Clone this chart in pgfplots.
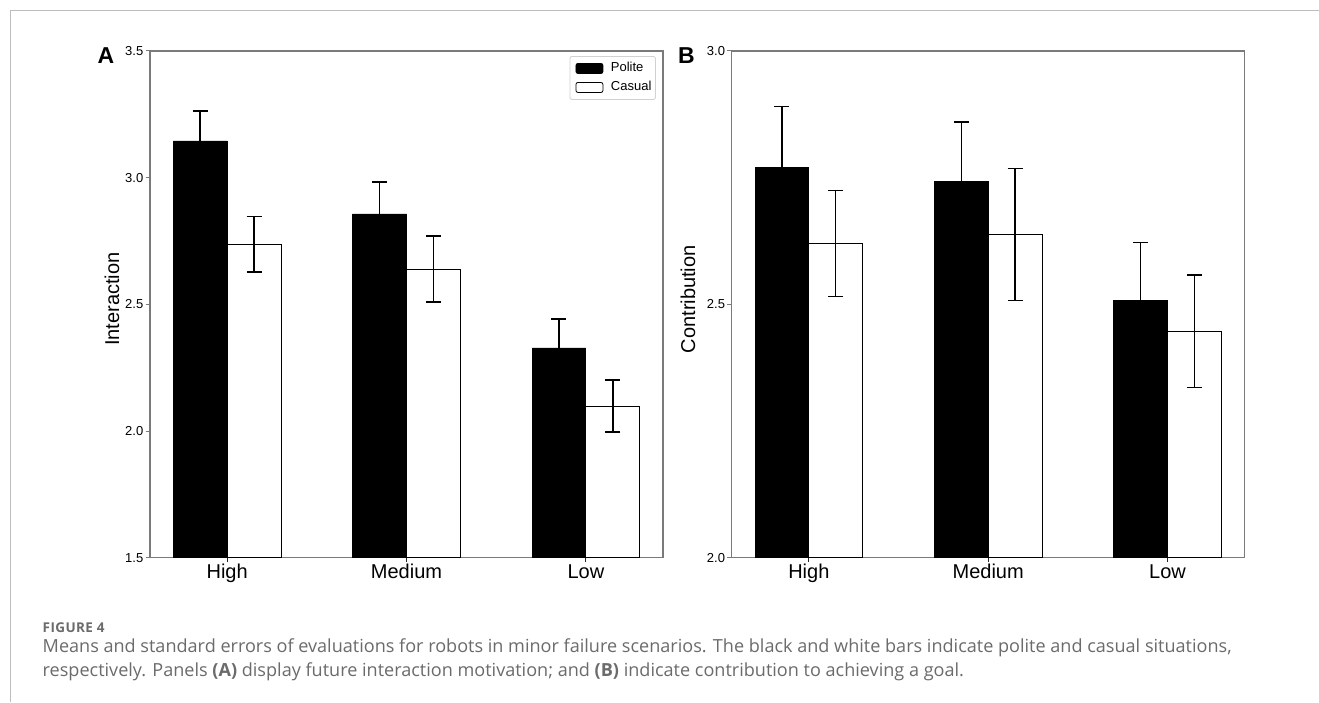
\documentclass[border=0pt]{standalone}
\usepackage{fontspec}
\usepackage{pgfplots}
\usepackage{pgfplotstable}
\pgfplotsset{compat=1.18}
\setmainfont{Liberation Sans}
\newfontfamily\capfont{Open Sans}
\definecolor{capgray}{HTML}{6B6B6B}
\definecolor{spine}{HTML}{7A7A7A}
\definecolor{framegray}{HTML}{BDBDBD}
\newlength{\capw}
\newcommand{\lineone}{Means and standard errors of evaluations for robots in minor failure scenarios. The black and white bars indicate polite and casual situations,}
\newcommand{\capsetup}{\settowidth{\capw}{\capfont\fontsize{16}{20}\selectfont\lineone}%
  \pgfmathsetmacro{\capsize}{16*(1189/\capw)}%
  \capfont\fontsize{\capsize}{20}\selectfont}

\pgfplotstableread{
x y e
-0.15 3.145 0.119
0.85 2.857 0.125
1.85 2.328 0.115
}\politeA
\pgfplotstableread{
x y e
0.15 2.737 0.110
1.15 2.639 0.130
2.15 2.099 0.103
}\casualA
\pgfplotstableread{
x y e
-0.15 2.770 0.120
0.85 2.743 0.117
1.85 2.507 0.115
}\politeB
\pgfplotstableread{
x y e
0.15 2.620 0.105
1.15 2.638 0.130
2.15 2.447 0.111
}\casualB

\pgfplotsset{
  panel/.style={
    scale only axis, width=513pt, height=506.7pt,
    xmin=-0.43, xmax=2.43,
    xtick={0,1,2}, xticklabels={High,Medium,Low},
    xtick pos=bottom, ytick pos=left,
    axis line style={draw=spine, line width=1.1pt},
    tick align=outside, major tick length=4.5pt,
    xtick style={draw=black!85, line width=1pt},
    ytick style={draw=spine, line width=1pt},
    xticklabel style={font=\fontsize{20}{24}\selectfont, inner sep=1pt, yshift=-1pt},
    yticklabel style={font=\fontsize{13}{15}\selectfont, inner sep=2pt,
      /pgf/number format/.cd, fixed, fixed zerofill, precision=1},
    /pgf/number format/assume math mode=true,
    ylabel style={font=\fontsize{20}{24}\selectfont, anchor=center},
  },
  pbar/.style={ybar, bar width=0.3, bar shift=0pt, fill=black, draw=black, line width=0.8pt, forget plot,
    error bars/.cd, y dir=both, y explicit,
    error bar style={line width=1.5pt, black},
    error mark options={rotate=90, mark size=7.5pt, line width=1.5pt, black}},
  cbar/.style={ybar, bar width=0.3, bar shift=0pt, fill=white, draw=black, line width=0.8pt, forget plot,
    error bars/.cd, y dir=both, y explicit,
    error bar style={line width=1.5pt, black},
    error mark options={rotate=90, mark size=7.5pt, line width=1.5pt, black}},
}

\begin{document}
\begin{tikzpicture}
\path[use as bounding box] (0pt,0pt) rectangle (1319pt,702pt);
\fill[white] (0pt,0pt) rectangle (1319pt,702pt);
\draw[framegray, line width=1pt] (10pt,0pt) -- (10pt,691pt) -- (1319pt,691pt);

% Panel A
\begin{axis}[panel, at={(150pt,144.3pt)}, anchor=south west,
  ymin=1.5, ymax=3.5, ytick={1.5,2,2.5,3,3.5},
  ylabel={Interaction},
  ylabel style={at={(axis description cs:-0.074,0.51)}},
  legend style={at={(rel axis cs:0.986,0.990)}, anchor=north east,
    draw=black!18, rounded corners=2pt, line width=0.8pt,
    font=\fontsize{13}{15}\selectfont, inner xsep=2pt, inner ysep=2.5pt,
    row sep=0pt, cells={anchor=west},
    nodes={inner ysep=3.5pt, text height=9.5pt, text depth=2.5pt}},
]
\addplot[pbar] table[x=x, y=y, y error=e] {\politeA};
\addplot[cbar] table[x=x, y=y, y error=e] {\casualA};
\addlegendimage{legend image code/.code={\path[draw=none, fill=none] (-4pt,0pt) rectangle (33pt,0.1pt);\draw[fill=black, draw=black, line width=0.8pt] (0pt,-5pt) rectangle (27pt,5pt);}}
\addlegendentry{Polite}
\addlegendimage{legend image code/.code={\path[draw=none, fill=none] (-4pt,0pt) rectangle (33pt,0.1pt);\draw[fill=white, draw=black, line width=0.8pt] (0pt,-5pt) rectangle (27pt,5pt);}}
\addlegendentry{Casual}
\end{axis}

% Panel B
\begin{axis}[panel, at={(731.7pt,144.3pt)}, anchor=south west,
  ymin=2, ymax=3, ytick={2,2.5,3},
  ylabel={Contribution},
  ylabel style={at={(axis description cs:-0.085,0.51)}},
]
\addplot[pbar] table[x=x, y=y, y error=e] {\politeB};
\addplot[cbar] table[x=x, y=y, y error=e] {\casualB};
\end{axis}

\node[anchor=base, font=\bfseries\fontsize{23}{23}\selectfont] at (106pt,638.7pt) {A};
\node[anchor=base, font=\bfseries\fontsize{23}{23}\selectfont] at (686.5pt,638.7pt) {B};

\node[anchor=base west, inner sep=0pt, text=capgray] at (42.5pt,69.3pt)
  {\capfont\bfseries\addfontfeature{LetterSpace=3}\fontsize{13.5}{15}\selectfont FIGURE 4};
\node[anchor=base west, inner sep=0pt, text=capgray] at (42.5pt,49.3pt)
  {\capsetup\lineone};
\node[anchor=base west, inner sep=0pt, text=capgray] at (42.5pt,25.3pt)
  {\capsetup respectively. Panels \textbf{(A)} display future interaction motivation; and \textbf{(B)} indicate contribution to achieving a goal.};
\end{tikzpicture}
\end{document}
